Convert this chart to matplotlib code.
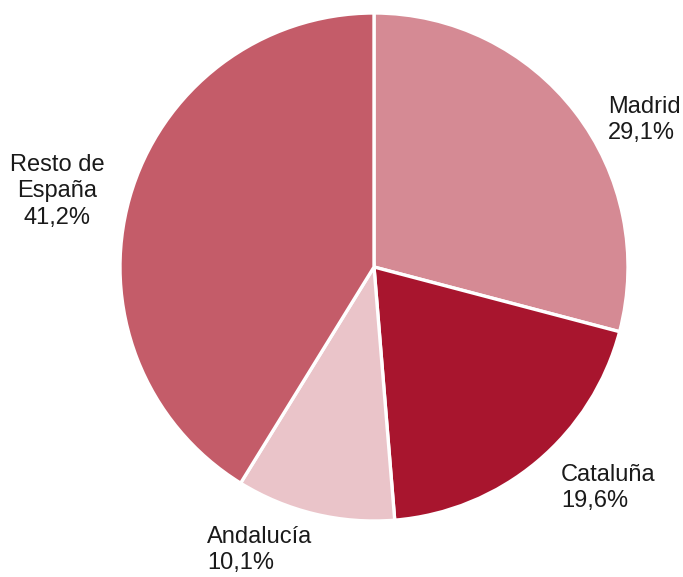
import matplotlib
matplotlib.use('Agg')
import matplotlib.pyplot as plt

plt.rcParams['font.family'] = ['Liberation Sans', 'DejaVu Sans']

# datos
regiones = ['Madrid', 'Cataluña', 'Andalucía', 'Resto de\nEspaña']
porcentajes = [29.1, 19.6, 10.1, 41.2]
colores = ['#D58A94', '#A8152E', '#EAC4C9', '#C45C69']

fig = plt.figure(figsize=(6.83, 5.77), dpi=100)
ax = fig.add_axes([0, 0, 1, 1])
ax.axis('off')

ax.pie(porcentajes, colors=colores, startangle=90, counterclock=False,
       center=(3.74, 5.77 - 2.67), radius=2.54,
       wedgeprops=dict(edgecolor='white', linewidth=2.4))
ax.set_xlim(0, 6.83)
ax.set_ylim(0, 5.77)
ax.set_aspect('auto')

def etiqueta(i):
    return regiones[i] + '\n' + ('%.1f%%' % porcentajes[i]).replace('.', ',')

# posiciones (x, y desde arriba, alineacion)
pos = [(6.08, 0.96, 'left'), (5.61, 4.64, 'left'),
       (2.07, 5.26, 'left'), (0.57, 1.54, 'center')]
for i, (x, y, ha) in enumerate(pos):
    ax.text(x, 5.77 - y, etiqueta(i), ha=ha, va='top', fontsize=17,
            color='#1a1a1a', linespacing=1.25, multialignment=ha)

fig.savefig('out.png', dpi=100)
